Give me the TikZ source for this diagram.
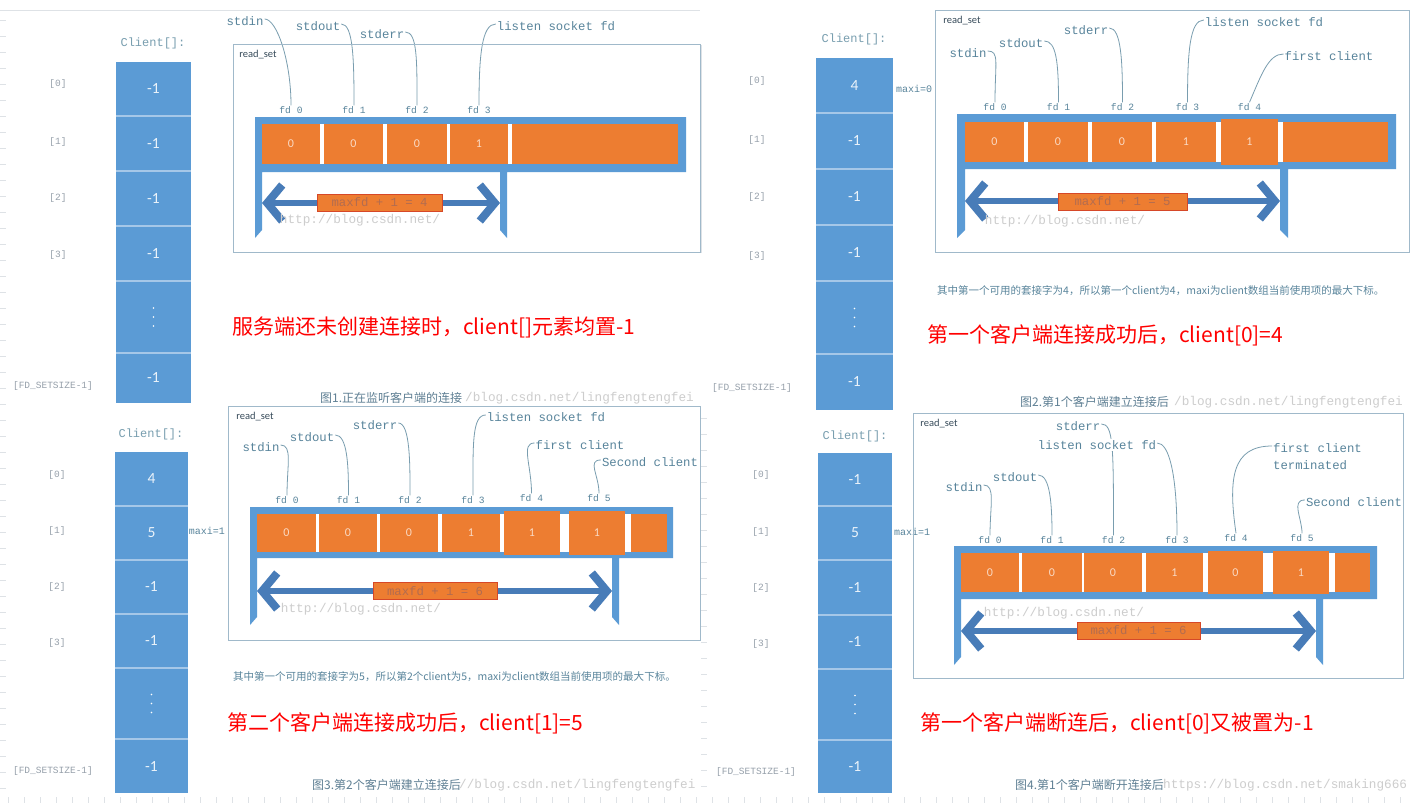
\documentclass[tikz,border=0pt]{standalone}
\usepackage{fontspec}
\setmainfont{Carlito}
\setmonofont{Liberation Mono}
\newfontfamily\cjk{Noto Sans CJK SC}
\usetikzlibrary{arrows.meta,backgrounds}
\definecolor{CellBlue}{RGB}{91,155,213}
\definecolor{SepBlue}{RGB}{165,199,232}
\definecolor{ArrowBlue}{RGB}{72,124,184}
\definecolor{FdOrange}{RGB}{237,125,49}
\definecolor{BoxRed}{RGB}{214,72,40}
\definecolor{PeachText}{RGB}{250,218,196}
\definecolor{MaxText}{RGB}{178,108,80}
\definecolor{LabelTeal}{RGB}{88,132,155}
\definecolor{ClientTeal}{RGB}{120,158,175}
\definecolor{IdxGray}{RGB}{150,160,170}
\definecolor{FrameGray}{RGB}{160,185,202}
\definecolor{SetText}{RGB}{55,75,90}
\definecolor{WmGray}{RGB}{205,205,205}
\definecolor{CapBlue}{RGB}{95,128,148}
\definecolor{RuleGray}{RGB}{222,226,230}
\tikzset{
  lab/.style={font=\ttfamily\fontsize{12.3}{13}\selectfont,text=LabelTeal,inner sep=1pt},
  fdlab/.style={font=\ttfamily\fontsize{9.6}{10}\selectfont,text=LabelTeal,inner sep=1pt},
  idx/.style={font=\ttfamily\fontsize{9.5}{10}\selectfont,text=IdxGray,inner sep=1pt},
  clientlab/.style={font=\ttfamily\fontsize{12}{12}\selectfont,text=ClientTeal,inner sep=1pt},
  maxilab/.style={font=\ttfamily\fontsize{10}{10}\selectfont,text=LabelTeal,inner sep=1pt},
  colval/.style={font=\fontsize{15.5}{16}\selectfont,text=white!88!CellBlue,inner sep=0pt},
  bitval/.style={font=\fontsize{12}{12}\selectfont,text=PeachText,inner sep=0pt},
  maxbox/.style={fill=FdOrange,draw=BoxRed,line width=1pt,font=\ttfamily\fontsize{12.3}{13}\selectfont,text=MaxText,minimum height=17pt,inner sep=0pt},
  setlab/.style={font=\fontsize{10.5}{11}\selectfont,text=SetText,inner sep=1pt},
  setbox/.style={draw=FrameGray,line width=0.9pt},
  sep/.style={SepBlue,line width=1.2pt},
  lead/.style={LabelTeal!80,line width=0.8pt},
  dbl/.style={ArrowBlue,line width=6pt,{Straight Barb[length=15pt,width=36pt,line width=2pt 1]}-{Straight Barb[length=15pt,width=36pt,line width=2pt 1]}},
  note/.style={font=\cjk\fontsize{21}{24}\selectfont,text=red,anchor=west,inner sep=0pt},
  small/.style={font=\cjk\fontsize{10.5}{11}\selectfont,text=LabelTeal,anchor=west,inner sep=0pt},
  caption/.style={font=\cjk\fontsize{12}{13}\selectfont,text=CapBlue,anchor=west,inner sep=0pt},
  wm/.style={font=\ttfamily\fontsize{12.7}{13}\selectfont,text=WmGray,inner sep=0pt},
}
\begin{document}
\begin{tikzpicture}[x=1pt,y=-1pt]
\begin{pgfonlayer}{background}
  \fill[white] (0,0) rectangle (1412,803);
\end{pgfonlayer}
\useasboundingbox (0,0) rectangle (1412,803);
% page rulers
\draw[RuleGray] (0,10) -- (700,10);
\draw[RuleGray] (701,45) -- (701,253);
\foreach \y in {20,36,...,795} \draw[RuleGray] (0,\y) -- (6,\y);
\foreach \y in {418,434,...,795} \draw[RuleGray] (701,\y) -- (707,\y);
\foreach \x in {8,24,...,1405} \draw[RuleGray] (\x,797) -- (\x,803);

% panel 1
\fill[CellBlue] (116,62) rectangle (191,403);
\foreach \y in {116,171,226,281,353} \draw[sep] (116,\y) -- (191,\y);
\foreach \v/\y [count=\i] in {-1/89,-1/143.5,-1/198.5,-1/253.5,-1/378}
  \node[colval] (ca\i) at (153.5,\y) {\v};
\foreach \d in {-9,0,9} \fill[white] (153.5,317+\d) circle (0.9);
\foreach \t/\y [count=\i] in {{[0]}/84,{[1]}/142,{[2]}/198,{[3]}/255}
  \node[idx] (ia\i) at (58,\y) {\t};
\node[idx] (ia5) at (53,386) {[FD\_SETSIZE-1]};
\node[clientlab] (ka) at (153,43) {Client[]:};
\draw[setbox] (233,44) rectangle (700,252);
\node[setlab] (ra) at (258,55) {read\_set};
\fill[CellBlue] (255,117) -- (686,117) -- (686,172) -- (507,172) -- (507,238) -- (500,230)
  -- (500,172) -- (262,172) -- (262,230) -- (255,238) -- cycle;
\fill[white] (262,124) rectangle (678,164);
\foreach \a/\b/\t/\u/\v [count=\i] in {262/320/124/164/0,324/383/124/164/0,387/447/124/164/0,
    450/508/124/164/1,512/678/124/164/{}}
  {\fill[FdOrange] (\a,\t) rectangle (\b,\u);
   \node[bitval] (ba\i) at ({(\a+\b)/2},{(\t+\u)/2}) {\v};}
\coordinate (la) at (262,203);
\coordinate (qa) at (500,203);
\draw[dbl] (la) -- (qa);
\node[maxbox,minimum width=125pt] (ma) at (379.5,202.5) {maxfd + 1 = 4};
\node[wm] (wa) at (360,220) {http://blog.csdn.net/};
\foreach \x/\n in {291/0,354/1,417/2,479/3}
  \node[fdlab] (fa\n) at (\x,110) {fd \n};
\node[lab] (sa0) at (245,21) {stdin};
\node[lab] (sa1) at (318,26) {stdout};
\node[lab] (sa2) at (382,34) {stderr};
\node[lab] (sa3) at (556,26) {listen socket fd};
\begin{pgfonlayer}{background}
\foreach \i in {0,1,2}
  \draw[lead] ([yshift=2pt]sa\i.east) .. controls +(12,0) and +(0,-45) .. (fa\i.north);
\draw[lead] ([yshift=2pt]sa3.west) .. controls +(-14,0) and +(0,-50) .. (fa3.north);
\end{pgfonlayer}
\node[note] (na) at (232,327) {服务端还未创建连接时，client[]元素均置-1};
\node[caption] (pa) at (320,398) {图1.正在监听客户端的连接};
\node[wm,anchor=west] (va) at (465,398) {/blog.csdn.net/lingfengtengfei};

% panel 2
\fill[CellBlue] (816,58) rectangle (893,410);
\foreach \y in {113,169,225,281,354} \draw[sep] (816,\y) -- (893,\y);
\foreach \v/\y [count=\i] in {4/85.5,-1/141,-1/197,-1/253,-1/382}
  \node[colval] (cb\i) at (854.5,\y) {\v};
\foreach \d in {-9,0,9} \fill[white] (854.5,317.5+\d) circle (0.9);
\foreach \t/\y [count=\i] in {{[0]}/81,{[1]}/140,{[2]}/197,{[3]}/256}
  \node[idx] (ib\i) at (757,\y) {\t};
\node[idx] (ib5) at (752,388) {[FD\_SETSIZE-1]};
\node[clientlab] (kb) at (854,39) {Client[]:};
\node[maxilab] (xb) at (914,89) {maxi=0};
\draw[setbox] (935,10) rectangle (1409,252);
\node[setlab] (rb) at (962,21) {read\_set};
\fill[CellBlue] (957,114) -- (1396,114) -- (1396,169) -- (1288,169) -- (1288,238) -- (1280,230)
  -- (1280,169) -- (965,169) -- (965,230) -- (957,238) -- cycle;
\fill[white] (965,122) rectangle (1388,162);
\foreach \a/\b/\t/\u/\v [count=\i] in {965/1024/122/162/0,1028/1088/122/162/0,1092/1152/122/162/0,
    1156/1216/122/162/1,1221/1278/119/165/1,1283/1388/122/162/{}}
  {\fill[FdOrange] (\a,\t) rectangle (\b,\u);
   \node[bitval] (bb\i) at ({(\a+\b)/2},{(\t+\u)/2}) {\v};}
\coordinate (lb) at (965,201);
\coordinate (qb) at (1280,201);
\draw[dbl] (lb) -- (qb);
\node[maxbox,minimum width=129pt] (mb) at (1122.5,201.5) {maxfd + 1 = 5};
\node[wm] (wb) at (1065,221) {http://blog.csdn.net/};
\foreach \x/\n in {995/0,1058.5/1,1122.5/2,1187.5/3,1249.5/4}
  \node[fdlab] (fb\n) at (\x,107) {fd \n};
\node[lab] (sb0) at (968,53) {stdin};
\node[lab] (sb1) at (1021,43) {stdout};
\node[lab] (sb2) at (1086,30) {stderr};
\node[lab] (sb3) at (1264,22) {listen socket fd};
\node[lab] (sb4) at (1329,56) {first client};
\begin{pgfonlayer}{background}
\foreach \i in {0,1,2}
  \draw[lead] ([yshift=2pt]sb\i.east) .. controls +(12,0) and +(0,-40) .. (fb\i.north);
\draw[lead] ([yshift=2pt]sb3.west) .. controls +(-14,0) and +(0,-50) .. (fb3.north);
\draw[lead] ([yshift=2pt]sb4.west) .. controls +(-15,0) and +(12,-28) .. (fb4.north);
\end{pgfonlayer}
\node[small] (tb) at (937,291) {其中第一个可用的套接字为4，所以第一个client为4，maxi为client数组当前使用项的最大下标。};
\node[note] (nb) at (927,335) {第一个客户端连接成功后，client[0]=4};
\node[caption] (pb) at (1020,402) {图2.第1个客户端建立连接后};
\node[wm,anchor=west] (vb) at (1174,402) {/blog.csdn.net/lingfengtengfei};

% panel 3
\fill[CellBlue] (115,452) rectangle (188,793);
\foreach \y in {506,560,614,668,739} \draw[sep] (115,\y) -- (188,\y);
\foreach \v/\y [count=\i] in {4/479,5/533,-1/587,-1/641,-1/766}
  \node[colval] (cc\i) at (151.5,\y) {\v};
\foreach \d in {-9,0,9} \fill[white] (151.5,703.5+\d) circle (0.9);
\foreach \t/\y [count=\i] in {{[0]}/475,{[1]}/531,{[2]}/587,{[3]}/643}
  \node[idx] (ic\i) at (57,\y) {\t};
\node[idx] (ic5) at (53,771) {[FD\_SETSIZE-1]};
\node[clientlab] (kc) at (151,434) {Client[]:};
\node[maxilab] (xc) at (207,531) {maxi=1};
\draw[setbox] (228,406) rectangle (700,640);
\node[setlab] (rc) at (255,417) {read\_set};
\fill[CellBlue] (250,507) -- (673,507) -- (673,558) -- (619,558) -- (619,625) -- (612,617)
  -- (612,558) -- (257,558) -- (257,617) -- (250,625) -- cycle;
\fill[white] (257,514) rectangle (667,552);
\foreach \a/\b/\t/\u/\v [count=\i] in {257/316/514/552/0,319/377/514/552/0,380/438/514/552/0,
    442/500/514/552/1,504/560/511/555/1,569/625/511/555/1,631/667/514/552/{}}
  {\fill[FdOrange] (\a,\t) rectangle (\b,\u);
   \node[bitval] (bc\i) at ({(\a+\b)/2},{(\t+\u)/2}) {\v};}
\coordinate (lc) at (257,591);
\coordinate (qc) at (612,591);
\draw[dbl] (lc) -- (qc);
\node[maxbox,minimum width=124pt] (mc) at (435,591) {maxfd + 1 = 6};
\node[wm] (wc) at (361,609) {http://blog.csdn.net/};
\foreach \x/\y/\n in {287/500/0,348.5/500/1,410/500/2,473/500/3,531.5/498/4,599/498/5}
  \node[fdlab] (fc\n) at (\x,\y) {fd \n};
\node[lab] (sc0) at (261,447) {stdin};
\node[lab] (sc1) at (312,437) {stdout};
\node[lab] (sc2) at (375,425) {stderr};
\node[lab] (sc3) at (546,417) {listen socket fd};
\node[lab] (sc4) at (580,445) {first client};
\node[lab] (sc5) at (650,462) {Second client};
\begin{pgfonlayer}{background}
\foreach \i in {0,1,2}
  \draw[lead] ([yshift=2pt]sc\i.east) .. controls +(12,0) and +(0,-30) .. (fc\i.north);
\draw[lead] ([yshift=2pt]sc3.west) .. controls +(-14,0) and +(0,-50) .. (fc3.north);
\draw[lead] ([yshift=2pt]sc4.west) .. controls +(-14,0) and +(0,-28) .. (fc4.north);
\draw[lead] ([yshift=2pt]sc5.west) .. controls +(-14,0) and +(0,-18) .. (fc5.north);
\end{pgfonlayer}
\node[small] (tc) at (233,677) {其中第一个可用的套接字为5，所以第2个client为5，maxi为client数组当前使用项的最大下标。};
\node[note] (nc) at (227,723) {第二个客户端连接成功后，client[1]=5};
\node[caption] (pc) at (312,785) {图3.第2个客户端建立连接后};
\node[wm,anchor=west] (vc) at (459,785) {//blog.csdn.net/lingfengtengfei};

% panel 4
\fill[CellBlue] (818,453) rectangle (892,793);
\foreach \y in {506,560,615,669,740} \draw[sep] (818,\y) -- (892,\y);
\foreach \v/\y [count=\i] in {-1/479.5,5/533,-1/587.5,-1/642,-1/766.5}
  \node[colval] (cd\i) at (855,\y) {\v};
\foreach \d in {-9,0,9} \fill[white] (855,704.5+\d) circle (0.9);
\foreach \t/\y [count=\i] in {{[0]}/475,{[1]}/532,{[2]}/588,{[3]}/644}
  \node[idx] (id\i) at (761,\y) {\t};
\node[idx] (id5) at (756,772) {[FD\_SETSIZE-1]};
\node[clientlab] (kd) at (855,436) {Client[]:};
\node[maxilab] (xd) at (912,532) {maxi=1};
\draw[setbox] (913,413) rectangle (1403,678);
\node[setlab] (rd) at (939,424) {read\_set};
\fill[CellBlue] (954,546) -- (1377,546) -- (1377,599) -- (1323,599) -- (1323,665) -- (1316,657)
  -- (1316,599) -- (961,599) -- (961,657) -- (954,665) -- cycle;
\fill[white] (961,553) rectangle (1370,592);
\foreach \a/\b/\t/\u/\v [count=\i] in {961/1019/553/592/0,1022/1082/553/592/0,1084/1142/553/592/0,
    1146/1203/553/592/1,1208/1263/551/594/0,1273/1329/551/594/1,1335/1370/553/592/{}}
  {\fill[FdOrange] (\a,\t) rectangle (\b,\u);
   \node[bitval] (bd\i) at ({(\a+\b)/2},{(\t+\u)/2}) {\v};}
\coordinate (ld) at (961,631);
\coordinate (qd) at (1316,631);
\draw[dbl] (ld) -- (qd);
\node[maxbox,minimum width=123pt] (md) at (1138.5,630.5) {maxfd + 1 = 6};
\node[wm] (wd) at (1064,613) {http://blog.csdn.net/};
\foreach \x/\y/\n in {990/540/0,1052/540/1,1113.5/540/2,1177/540/3,1236/538/4,1302/538/5}
  \node[fdlab] (fd\n) at (\x,\y) {fd \n};
\node[lab] (sd0) at (964,487) {stdin};
\node[lab] (sd1) at (1015,477) {stdout};
\node[lab] (sd2) at (1078,426) {stderr};
\node[lab,fill=white] (sd3) at (1097,445) {listen socket fd};
\node[lab,anchor=west] (sd4) at (1272,448) {first client};
\node[lab,anchor=west] (td4) at (1272,465) {terminated};
\node[lab] (sd5) at (1354,502) {Second client};
\begin{pgfonlayer}{background}
\foreach \i in {0,1}
  \draw[lead] ([yshift=2pt]sd\i.east) .. controls +(12,0) and +(0,-30) .. (fd\i.north);
\draw[lead] ([yshift=2pt]sd2.east) .. controls +(12,0) and +(0,-90) .. (fd2.north);
\draw[lead] ([yshift=2pt]sd3.east) .. controls +(12,0) and +(0,-60) .. (fd3.north);
\draw[lead] ([yshift=2pt]sd4.west) .. controls +(-40,0) and +(-8,-55) .. (fd4.north);
\draw[lead] ([yshift=2pt]sd5.west) .. controls +(-14,0) and +(0,-15) .. (fd5.north);
\end{pgfonlayer}
\node[note] (nd) at (920,723) {第一个客户端断连后，client[0]又被置为-1};
\node[caption] (pd) at (1015,785) {图4.第1个客户端断开连接后};
\node[wm,anchor=west] (vd) at (1163,785) {https://blog.csdn.net/smaking666};
\end{tikzpicture}
\end{document}
